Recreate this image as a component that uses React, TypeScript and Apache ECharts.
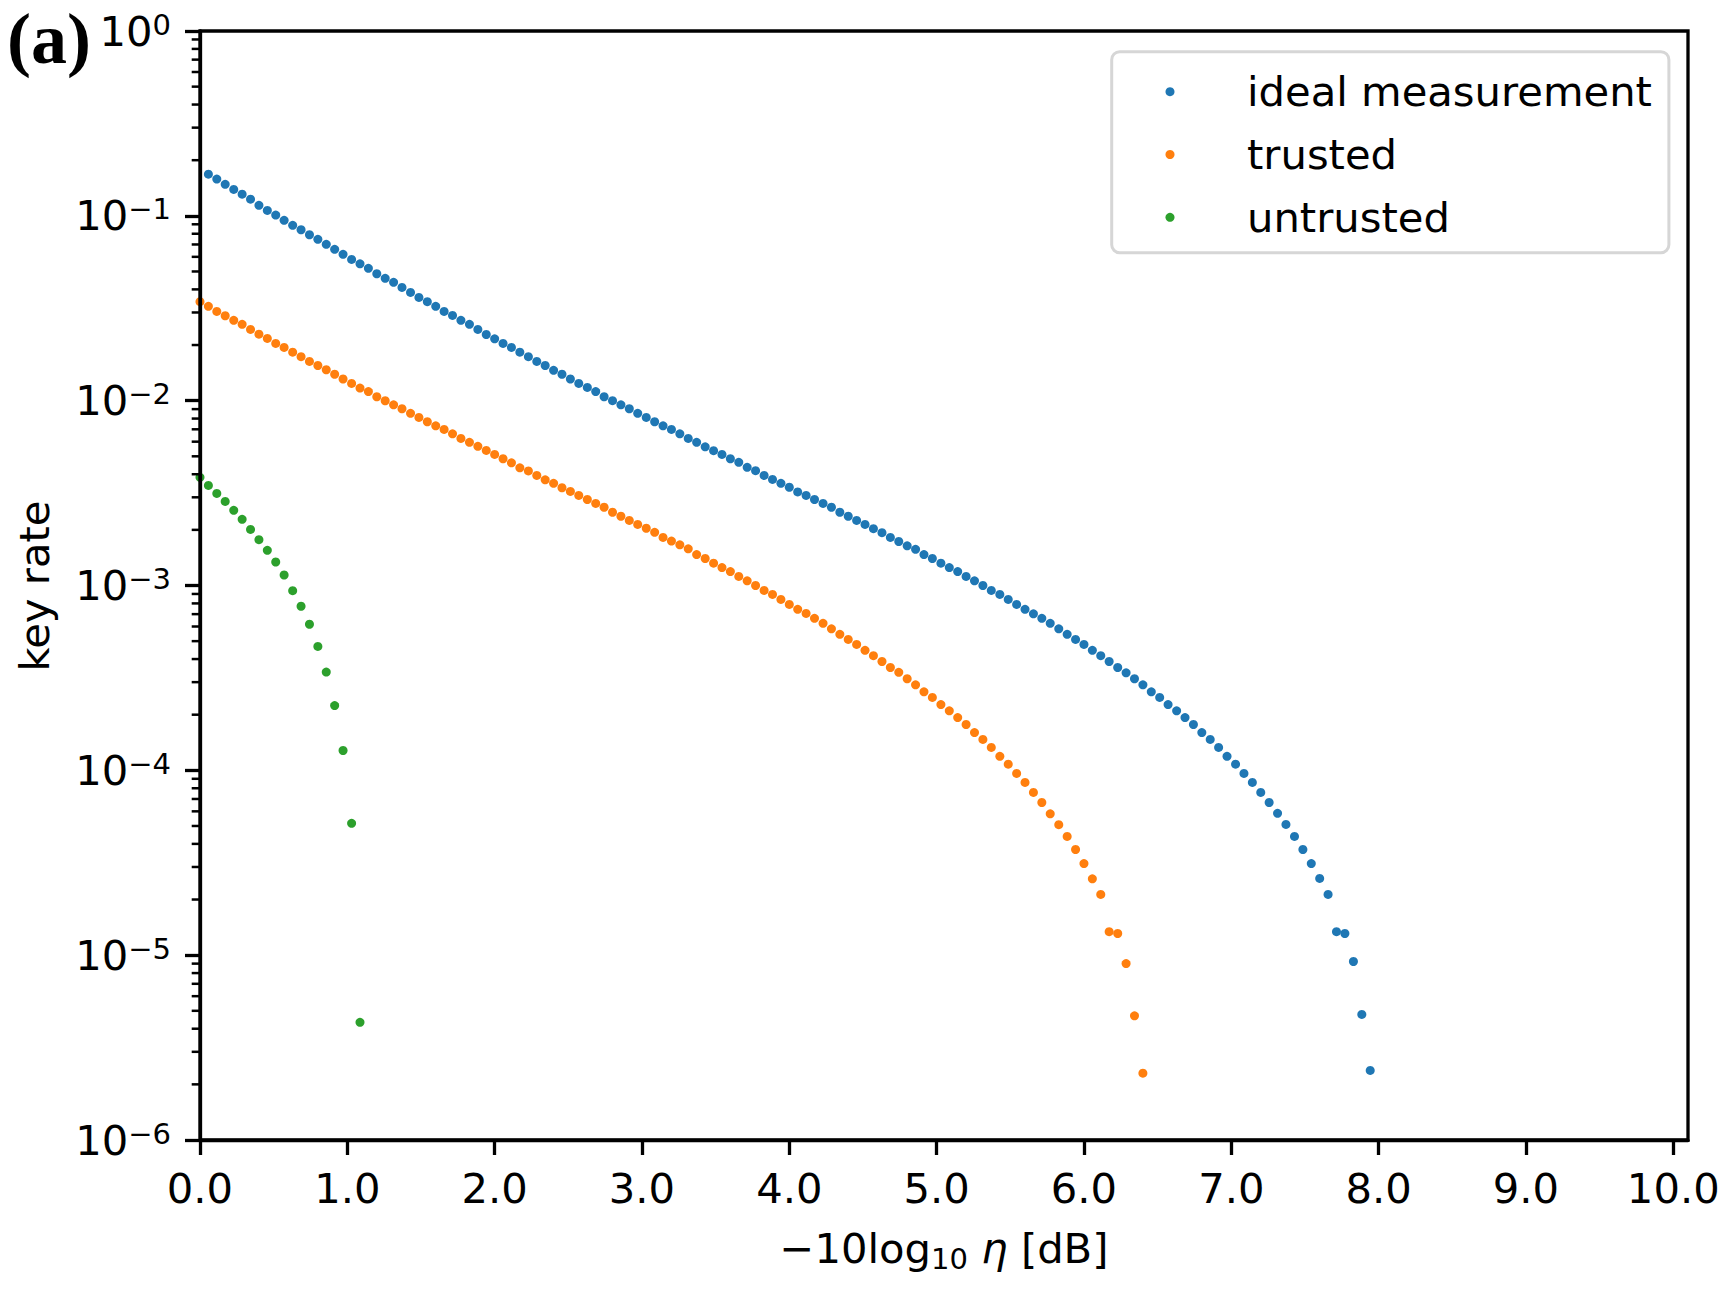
import React, { useEffect, useRef } from "react";
import * as echarts from "echarts";

// Loss grid in dB (sample positions shared by all three curves)
const lossDb = [
  0, 0.057, 0.114, 0.171, 0.229, 0.286, 0.343, 0.4, 0.457, 0.514, 0.571, 0.629, 0.686, 0.743, 0.8, 0.857, 0.914, 0.971, 1.029, 1.086, 1.143, 1.2, 1.257, 1.314, 1.371, 1.429, 1.486, 1.543, 1.6, 1.657, 1.714, 1.771, 1.829, 1.886, 1.943,
  2, 2.057, 2.114, 2.171, 2.229, 2.286, 2.343, 2.4, 2.457, 2.514, 2.571, 2.629, 2.686, 2.743, 2.8, 2.857, 2.914, 2.971, 3.029, 3.086, 3.143, 3.2, 3.257, 3.314, 3.371, 3.429, 3.486, 3.543, 3.6, 3.657, 3.714, 3.771, 3.829, 3.886, 3.943,
  4, 4.057, 4.114, 4.171, 4.229, 4.286, 4.343, 4.4, 4.457, 4.514, 4.571, 4.629, 4.686, 4.743, 4.8, 4.857, 4.914, 4.971, 5.029, 5.086, 5.143, 5.2, 5.257, 5.314, 5.371, 5.429, 5.486, 5.543, 5.6, 5.657, 5.714, 5.771, 5.829, 5.886, 5.943,
  6, 6.057, 6.114, 6.171, 6.229, 6.286, 6.343, 6.4, 6.457, 6.514, 6.571, 6.629, 6.686, 6.743, 6.8, 6.857, 6.914, 6.971, 7.029, 7.086, 7.143, 7.2, 7.257, 7.314, 7.371, 7.429, 7.486, 7.543, 7.6, 7.657, 7.714, 7.771, 7.829, 7.886, 7.943,
];

// ideal measurement: first sample index is 1
const idealStart = 1;
const idealRate = [
  0.168, 0.158, 0.148, 0.139, 0.131, 0.123, 0.114, 0.107, 0.101, 0.0945,
  0.0888, 0.0841, 0.079, 0.0746, 0.0701, 0.0659, 0.0619, 0.0581, 0.055, 0.052,
  0.0486, 0.0459, 0.0437, 0.041, 0.0385, 0.0362, 0.0343, 0.0324, 0.0304, 0.0289,
  0.0272, 0.0259, 0.0243, 0.0228, 0.0216, 0.0204, 0.0194, 0.0183, 0.0173, 0.0163,
  0.0155, 0.0146, 0.0139, 0.0131, 0.0124, 0.0118, 0.0112, 0.0105, 0.01, 0.0095,
  0.00904, 0.00854, 0.00812, 0.00769, 0.00731, 0.00699, 0.00662, 0.00625, 0.00595, 0.00563,
  0.00536, 0.00512, 0.00485, 0.00464, 0.00436, 0.00418, 0.00394, 0.00375, 0.00357, 0.0034,
  0.00321, 0.00307, 0.00292, 0.00278, 0.00265, 0.00249, 0.00237, 0.00225, 0.00214, 0.00203,
  0.00193, 0.00182, 0.00173, 0.00164, 0.00157, 0.00147, 0.0014, 0.00132, 0.00125, 0.00119,
  0.00112, 0.00106, 0.001, 0.000941, 0.000895, 0.000841, 0.00079, 0.000743, 0.000703, 0.000664,
  0.000624, 0.000583, 0.000544, 0.000511, 0.00048, 0.000446, 0.000417, 0.000388, 0.00036, 0.000337,
  0.000313, 0.00029, 0.000266, 0.000248, 0.000227, 0.00021, 0.000193, 0.000177, 0.00016, 0.000147,
  0.000133, 0.000119, 0.000108, 0.0000962, 0.000086, 0.0000759, 0.000067, 0.0000585, 0.000051, 0.0000439,
  0.0000373, 0.0000313, 0.000026, 0.0000213, 0.0000134, 0.0000131, 0.00000924, 0.00000478, 0.00000238,
];

const trustedRate = [
  0.0343, 0.0324, 0.0304, 0.0288, 0.0272, 0.0259, 0.0243, 0.0229, 0.0217, 0.0204,
  0.0194, 0.0183, 0.0173, 0.0163, 0.0155, 0.0147, 0.0139, 0.0131, 0.0124, 0.0117,
  0.0112, 0.0105, 0.00999, 0.0095, 0.00904, 0.00854, 0.00812, 0.00769, 0.00731, 0.00699,
  0.00662, 0.00625, 0.00595, 0.00566, 0.00538, 0.00512, 0.00485, 0.00461, 0.00433, 0.00417,
  0.00394, 0.00373, 0.00357, 0.00338, 0.00323, 0.00307, 0.00292, 0.00278, 0.00265, 0.00249,
  0.00237, 0.00225, 0.00214, 0.00204, 0.00194, 0.00182, 0.00174, 0.00166, 0.00158, 0.00147,
  0.0014, 0.00132, 0.00125, 0.00119, 0.00112, 0.00106, 0.001, 0.000941, 0.000895, 0.000841,
  0.00079, 0.000743, 0.000706, 0.000664, 0.000624, 0.000583, 0.000544, 0.000511, 0.00048, 0.000446,
  0.000417, 0.000388, 0.00036, 0.000339, 0.000313, 0.00029, 0.000266, 0.000248, 0.000227, 0.00021,
  0.000193, 0.000177, 0.00016, 0.000147, 0.000133, 0.000119, 0.000108, 0.0000962, 0.000086, 0.0000759,
  0.000067, 0.0000582, 0.0000508, 0.0000439, 0.0000373, 0.0000313, 0.0000259, 0.0000213, 0.0000134, 0.0000131,
  0.000009, 0.0000047, 0.0000023,
];

const untrustedRate = [
  0.00385, 0.00348, 0.00315, 0.00285, 0.00255, 0.00228, 0.00201, 0.00177, 0.00155, 0.00134,
  0.00114, 0.000938, 0.000772, 0.000617, 0.000468, 0.00034, 0.000224, 0.000128, 0.0000517, 0.00000433,
];

const seriesNames = ["ideal measurement", "trusted", "untrusted"];
const seriesColors = ["#1f77b4", "#ff7f0e", "#2ca02c"];
const xTickValues = [0, 1, 2, 3, 4, 5, 6, 7, 8, 9, 10];
const minorMantissas = [2, 3, 4, 5, 6, 7, 8, 9];
const minorDecades = [-6, -5, -4, -3, -2, -1];

const FONT = "DejaVu Sans";
const FS = 41.7;

export default function App() {
  const ref = useRef<HTMLDivElement>(null);

  useEffect(() => {
    document.body.style.margin = "0";
    const chart = echarts.init(ref.current as HTMLDivElement, null, { renderer: "svg" });

    const idealData = idealRate.map((v, k) => [lossDb[k + idealStart], v]);
    const trustedData = trustedRate.map((v, k) => [lossDb[k], v]);
    const untrustedData = untrustedRate.map((v, k) => [lossDb[k], v]);
    const minorTickValues: number[] = [];
    minorDecades.forEach((d) => minorMantissas.forEach((m) => minorTickValues.push(m * Math.pow(10, d))));

    const scatter = (idx: number, data: number[][]) => ({
      type: "scatter",
      name: seriesNames[idx],
      data,
      symbolSize: 9,
      itemStyle: { color: seriesColors[idx], opacity: 1 },
      emphasis: { disabled: true },
      z: 2 + idx,
    });

    const option: any = {
      animation: false,
      backgroundColor: "#ffffff",
      grid: {
        left: 200,
        top: 31,
        right: 46,
        bottom: 149,
        show: true,
        borderColor: "#000",
        borderWidth: 3.3,
        backgroundColor: "transparent",
        containLabel: false,
        outerBoundsMode: "none",
        z: 10,
      },
      legend: {
        data: seriesNames,
        orient: "vertical",
        left: 1111.7,
        top: 51.7,
        padding: [14, 17, 9.4, 53.8],
        itemWidth: 9,
        itemHeight: 9,
        itemGap: 10.8,
        icon: "circle",
        selectedMode: false,
        backgroundColor: "#ffffff",
        borderColor: "#d6d6d6",
        borderWidth: 3,
        borderRadius: 8,
        itemStyle: { opacity: 1 },
        textStyle: {
          fontFamily: FONT,
          fontSize: FS,
          color: "#000",
          lineHeight: 42,
          padding: [0, 0, 10, 67.5],
        },
        z: 20,
      },
      xAxis: {
        type: "value",
        min: 0,
        max: 10.1,
        z: 10,
        axisLine: { show: true, onZero: false, lineStyle: { color: "#000", width: 3.3 } },
        axisTick: {
          show: true,
          length: 15,
          customValues: xTickValues,
          lineStyle: { color: "#000", width: 3.3 },
        },
        axisLabel: {
          customValues: xTickValues,
          formatter: (v: number) => v.toFixed(1),
          margin: 27,
          fontFamily: FONT,
          fontSize: FS,
          lineHeight: 42,
          color: "#000",
        },
        splitLine: { show: false },
      },
      yAxis: {
        type: "log",
        logBase: 10,
        min: 1e-6,
        max: 1,
        z: 10,
        axisLine: { show: true, onZero: false, lineStyle: { color: "#000", width: 3.3 } },
        axisTick: { show: true, length: 15, lineStyle: { color: "#000", width: 3.3 } },
        axisLabel: {
          margin: 29,
          color: "#000",
          formatter: (v: number) => {
            const e = Math.round(Math.log10(v));
            const s = e < 0 ? "\u2212" + String(-e) : String(e);
            return "{b|10}{s|" + s + "}";
          },
          rich: {
            b: { fontFamily: FONT, fontSize: FS, lineHeight: 42, color: "#000" },
            s: { fontFamily: FONT, fontSize: 29, lineHeight: 29, verticalAlign: "top", color: "#000" },
          },
        },
        splitLine: { show: false },
        minorTick: { show: false },
      },
      series: [
        scatter(0, idealData),
        scatter(1, trustedData),
        scatter(2, untrustedData),
        {
          type: "custom",
          name: "minor ticks",
          silent: true,
          clip: false,
          z: 12,
          data: minorTickValues.map((v) => [0, v]),
          renderItem: (params: any, api: any) => {
            const p = api.coord([0, api.value(1)]);
            const left = params.coordSys.x;
            return {
              type: "line",
              shape: { x1: left - 8.3, y1: p[1], x2: left, y2: p[1] },
              style: { stroke: "#000", lineWidth: 2.5 },
            };
          },
        },
      ],
      graphic: [
        {
          type: "text",
          x: 7,
          y: 39,
          style: {
            text: "(a)",
            fontFamily: "Liberation Serif",
            fontWeight: "bold",
            fontSize: 72,
            lineHeight: 72,
            fill: "#000",
            align: "left",
            verticalAlign: "middle",
          },
        },
        {
          type: "text",
          x: 34,
          y: 586,
          rotation: Math.PI / 2,
          style: {
            text: "key rate",
            fontFamily: FONT,
            fontSize: FS,
            fill: "#000",
            align: "center",
            verticalAlign: "middle",
          },
        },
        {
          type: "text",
          x: 944,
          y: 1248.6,
          style: {
            text: "{a|\u221210log}{s|10}{a| }{i|\u03b7}{a| [dB]}",
            align: "center",
            verticalAlign: "middle",
            fill: "#000",
            rich: {
              a: { fontFamily: FONT, fontSize: FS, lineHeight: 50, fill: "#000" },
              s: { fontFamily: FONT, fontSize: 29, lineHeight: 29, verticalAlign: "bottom", fill: "#000" },
              i: { fontFamily: FONT, fontSize: FS, fontStyle: "italic", lineHeight: 50, fill: "#000" },
            },
          },
        },
      ],
    };

    chart.setOption(option);
    return () => chart.dispose();
  }, []);

  return <div ref={ref} style={{ width: 1734, height: 1289 }} />;
}
